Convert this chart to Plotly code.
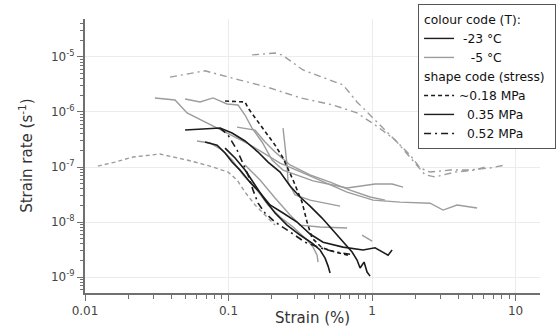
import plotly.graph_objects as go

# ---- data (strain in %, strain rate in s^-1) ----
# -5 C, ~0.18 MPa (gray dashed)
g_dash_x = [0.0123, 0.0162, 0.0216, 0.0333, 0.0514, 0.0743, 0.0992, 0.1146, 0.1303, 0.1530, 0.1796, 0.2109]
g_dash_y = [1.04e-7, 1.23e-7, 1.52e-7, 1.72e-7, 1.34e-7, 1.04e-7, 8.1e-8, 5.8e-8, 3.5e-8, 2.04e-8, 1.34e-8, 8.8e-9]

# -5 C, 0.52 MPa (gray dash-dot), two tests
g_dd1_x = [0.146, 0.211, 0.236, 0.330, 0.628, 0.785, 0.968, 1.33, 1.84, 2.16, 2.54, 3.50, 4.82, 6.64, 8.45]
g_dd1_y = [1.09e-5, 1.18e-5, 1.09e-5, 5.8e-6, 3.1e-6, 1.52e-6, 8.8e-7, 3.8e-7, 1.65e-7, 9.6e-8, 8.1e-8, 8.8e-8, 8.8e-8, 9.6e-8, 1.09e-7]
g_dd2_x = [0.0391, 0.0686, 0.120, 0.185, 0.318, 0.535, 0.785, 1.05, 1.45, 1.84, 2.34, 2.75, 3.79, 5.22, 6.13]
g_dd2_y = [4.3e-6, 5.6e-6, 3.8e-6, 2.85e-6, 1.8e-6, 1.34e-6, 9.6e-7, 5.8e-7, 3.1e-7, 1.52e-7, 7.2e-8, 6.6e-8, 8.1e-8, 8.8e-8, 1.0e-7]

# -5 C, 0.35 MPa (gray solid)
g1_x = [0.0307, 0.0424, 0.0514, 0.0708, 0.0976, 0.1345, 0.1712, 0.2286, 0.3305, 0.4859, 0.6696, 1.016, 1.567, 2.536, 3.125, 3.911, 5.392]
g1_y = [1.8e-6, 1.65e-6, 9.6e-7, 6.3e-7, 4.15e-7, 2.73e-7, 1.87e-7, 1.18e-7, 7.8e-8, 5.1e-8, 3.5e-8, 2.5e-8, 2.3e-8, 2.2e-8, 1.65e-8, 2.04e-8, 1.8e-8]
g2_x = [0.0498, 0.0633, 0.0780, 0.0976, 0.1165, 0.1303, 0.1458, 0.1712, 0.2010, 0.2398, 0.3881, 0.6696, 1.049, 1.379, 1.644]
g2_y = [1.72e-6, 1.52e-6, 1.8e-6, 1.40e-6, 1.34e-6, 8.8e-7, 5.1e-7, 2.85e-7, 1.34e-7, 8.8e-8, 5.6e-8, 4.15e-8, 4.9e-8, 4.9e-8, 4.3e-8]
g3_x = [0.1146, 0.1530, 0.1796, 0.2109, 0.2683, 0.3698, 0.5098, 0.7027, 0.9685, 1.232]
g3_y = [5.3e-7, 4.7e-7, 2.85e-7, 1.87e-7, 1.09e-7, 7.2e-8, 5.3e-8, 3.8e-8, 2.85e-8, 2.5e-8]
g4_x = [0.2398, 0.2477, 0.2557, 0.2598, 0.2907, 0.3698, 0.4859, 0.5984]
g4_y = [5.1e-7, 2.5e-7, 1.09e-7, 5.3e-8, 3.1e-8, 2.5e-8, 2.2e-8, 1.95e-8]
g5_x = [0.0603, 0.0743, 0.0901, 0.1058, 0.1262, 0.1580, 0.1885, 0.2286, 0.2816, 0.3524, 0.3881, 0.4139, 0.4206]
g5_y = [2.97e-7, 2.73e-7, 2.04e-7, 1.34e-7, 7.2e-8, 3.8e-8, 2.04e-8, 1.23e-8, 8.1e-9, 4.7e-9, 3.5e-9, 2.5e-9, 1.87e-9]
g6_x = [0.1303, 0.1658, 0.2109, 0.2683, 0.3149, 0.4343, 0.6696]
g6_y = [1.09e-7, 5.8e-8, 2.73e-8, 1.34e-8, 8.8e-9, 8.1e-9, 7.8e-9]
g7_x = [0.851, 1.0]
g7_y = [5.8e-9, 4.5e-9]

# -23 C, ~0.18 MPa (black dashed)
b_dash_x = [0.0946, 0.1303, 0.1367, 0.1530, 0.1796, 0.2109, 0.2398, 0.2816, 0.3253, 0.3524, 0.3819, 0.4485, 0.5524, 0.6805]
b_dash_y = [1.58e-6, 1.52e-6, 1.18e-6, 7.8e-7, 4.3e-7, 2.5e-7, 1.46e-7, 5.8e-8, 2.3e-8, 1.0e-8, 5.1e-9, 3.4e-9, 2.85e-9, 2.5e-9]

# -23 C, 0.35 MPa (black solid)
b1_x = [0.0498, 0.0873, 0.1058, 0.1303, 0.1606, 0.1885, 0.2286, 0.2683, 0.3149, 0.3698, 0.4485, 0.5524, 0.6484, 0.7256, 0.7862, 0.8249, 0.8795, 0.9228, 0.9685]
b1_y = [4.7e-7, 5.1e-7, 4.15e-7, 2.97e-7, 1.87e-7, 1.23e-7, 8.1e-8, 4.5e-8, 2.85e-8, 1.95e-8, 1.18e-8, 6.3e-9, 4.0e-9, 2.85e-9, 2.04e-9, 1.46e-9, 1.87e-9, 1.23e-9, 1.04e-9]
b2_x = [0.0686, 0.0832, 0.0946, 0.1058, 0.1203, 0.1412, 0.1658, 0.1946, 0.2398, 0.3002, 0.3698, 0.4557, 0.6280, 0.8655, 1.049, 1.193, 1.293, 1.379]
b2_y = [2.85e-7, 2.5e-7, 1.8e-7, 1.23e-7, 8.8e-8, 5.3e-8, 3.4e-8, 2.04e-8, 1.46e-8, 1.0e-8, 6.05e-9, 4.3e-9, 3.5e-9, 3.1e-9, 3.4e-9, 2.85e-9, 2.5e-9, 3.1e-9]
b4_x = [0.0946, 0.1110, 0.1303, 0.1530, 0.1796, 0.2109, 0.2557, 0.3149, 0.3819, 0.4343, 0.4706, 0.4938, 0.5098]
b4_y = [2.2e-7, 1.46e-7, 8.8e-8, 4.7e-8, 2.5e-8, 1.46e-8, 8.8e-9, 5.8e-9, 4.15e-9, 3.1e-9, 2.2e-9, 1.58e-9, 1.18e-9]

# -23 C, 0.52 MPa (black dash-dot)
b_dd_x = [0.0873, 0.0992, 0.1146, 0.1262, 0.1367, 0.1482, 0.1606, 0.1796, 0.2109, 0.2683, 0.3413, 0.4343, 0.5524, 0.7027]
b_dd_y = [5.1e-7, 3.8e-7, 2.04e-7, 1.18e-7, 7.2e-8, 3.8e-8, 2.2e-8, 1.46e-8, 1.0e-8, 6.6e-9, 4.3e-9, 3.4e-9, 2.85e-9, 2.6e-9]

x_ticks = [0.01, 0.1, 1, 10]
x_ticktext = ["0.01", "0.1", "1", "10"]
y_ticks = [1e-9, 1e-8, 1e-7, 1e-6, 1e-5]
y_ticktext = ["10<sup>-9</sup>", "10<sup>-8</sup>", "10<sup>-7</sup>", "10<sup>-6</sup>", "10<sup>-5</sup>"]

# ---- styles ----
BLACK = "#1c1c1c"
GRAY = "#9c9c9c"
DASH = "4px,3px"
DASHDOT = "7px,4px,2px,4px"
FONT = "DejaVu Sans"

fig = go.Figure()

def add(x, y, color, dash, width):
    fig.add_trace(go.Scatter(x=x, y=y, mode="lines", showlegend=False, hoverinfo="skip",
                             line=dict(color=color, dash=dash, width=width)))

add(g_dash_x, g_dash_y, GRAY, DASH, 1.4)
add(g_dd1_x, g_dd1_y, GRAY, DASHDOT, 1.4)
add(g_dd2_x, g_dd2_y, GRAY, DASHDOT, 1.4)
for gx, gy in [(g1_x, g1_y), (g2_x, g2_y), (g3_x, g3_y), (g4_x, g4_y), (g5_x, g5_y), (g6_x, g6_y), (g7_x, g7_y)]:
    add(gx, gy, GRAY, "solid", 1.4)
add(b_dash_x, b_dash_y, BLACK, DASH, 1.6)
for bx, by in [(b1_x, b1_y), (b2_x, b2_y), (b4_x, b4_y)]:
    add(bx, by, BLACK, "solid", 1.6)
add(b_dd_x, b_dd_y, BLACK, DASHDOT, 1.6)

# legend entries
NB = "\u00a0"
LFS = 12.3
legend_items = [
    ("colour", "colour code (T):", NB + "-23 °C", BLACK, "solid"),
    ("colour", "colour code (T):", NB + NB + NB + "-5 °C", GRAY, "solid"),
    ("shape", "shape code (stress)", "~0.18 MPa", BLACK, DASH),
    ("shape", "shape code (stress)", NB + NB + "0.35 MPa", BLACK, "solid"),
    ("shape", "shape code (stress)", NB + NB + "0.52 MPa", BLACK, DASHDOT),
]
for grp, gtitle, name, color, dash in legend_items:
    fig.add_trace(go.Scatter(x=[None], y=[None], mode="lines", name=name,
                             legendgroup=grp, legendgrouptitle=dict(text=gtitle, font=dict(size=LFS, color="#111")),
                             line=dict(color=color, dash=dash, width=1.4)))

axis_common = dict(type="log", showline=True, linecolor="#707070", linewidth=2,
                   ticks="outside", ticklen=6, tickwidth=1.2, tickcolor="#707070",
                   showgrid=True, gridcolor="#ececec", gridwidth=1, zeroline=False,
                   tickfont=dict(family=FONT, size=12, color="#444"))

x_minor = [m * 10 ** e for e in range(-2, 1) for m in range(2, 10)]
y_minor = [m * 10 ** e for e in range(-10, -4) for m in range(2, 10)]

fig.update_xaxes(**axis_common, range=[-2, 1.17], tickmode="array", tickvals=x_ticks, ticktext=x_ticktext,
                 minor=dict(tickmode="array", tickvals=x_minor, ticks="outside", ticklen=4, tickcolor="#707070", showgrid=False))
fig.update_yaxes(**axis_common, range=[-9.29, -4.31], tickmode="array", tickvals=y_ticks, ticktext=y_ticktext,
                 minor=dict(tickmode="array", tickvals=y_minor, ticks="outside", ticklen=3, tickcolor="#707070", showgrid=False))

fig.add_annotation(text="Strain (%)", xref="paper", yref="paper", x=0.5, y=-0.092, showarrow=False,
                   xanchor="center", yanchor="middle", font=dict(family=FONT, size=15, color="#333"))
fig.add_annotation(text="Strain rate (s<sup>-1</sup>)", xref="paper", yref="paper", x=-0.13, y=0.5, showarrow=False,
                   textangle=-90, xanchor="center", yanchor="middle", font=dict(family=FONT, size=15, color="#333"))

fig.update_layout(
    width=559, height=332,
    margin=dict(l=85, r=19, t=19, b=39, autoexpand=False),
    paper_bgcolor="white", plot_bgcolor="white",
    font=dict(family=FONT, size=LFS, color="#111"),
    legend=dict(x=0.732, y=1.055, xanchor="left", yanchor="top", bgcolor="white",
                bordercolor="#555", borderwidth=1, tracegroupgap=0, itemwidth=30,
                font=dict(family=FONT, size=LFS, color="#111"), traceorder="grouped"),
)

fig.write_html("out.html")
